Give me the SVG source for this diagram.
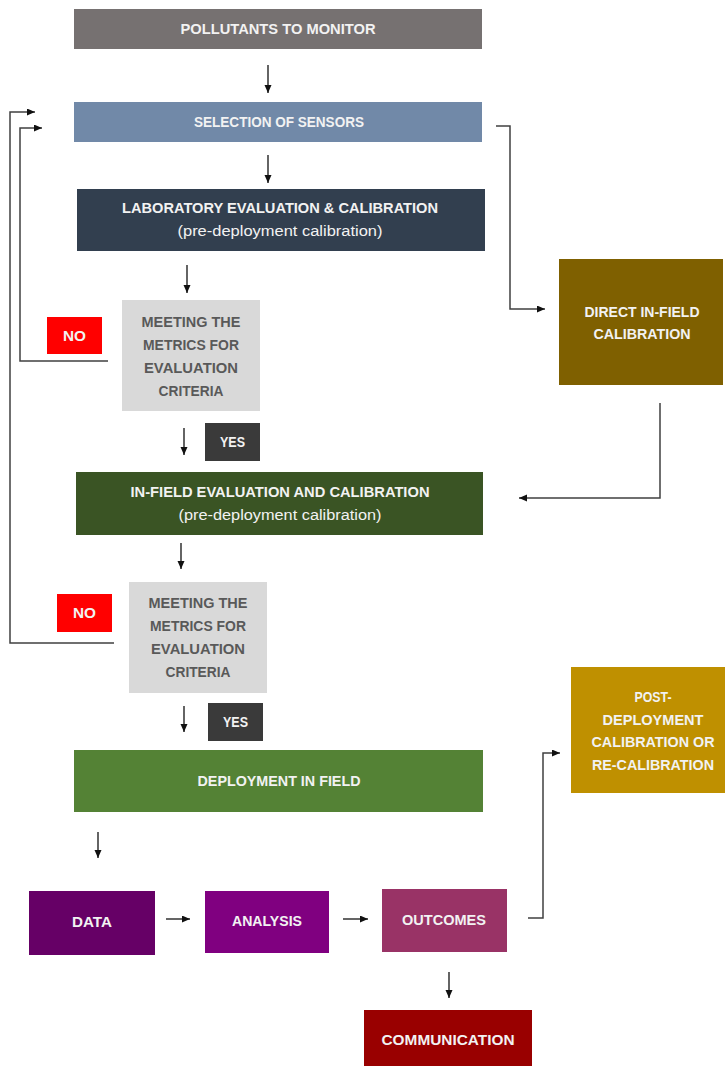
<svg xmlns="http://www.w3.org/2000/svg" width="725" height="1066" viewBox="0 0 725 1066">
<style>
.t{font-family:"Liberation Sans Narrow","Liberation Sans","DejaVu Sans Condensed",sans-serif;font-weight:bold;font-size:14px;fill:#F2F2F2;text-anchor:middle;dominant-baseline:central}
.s{font-family:"Liberation Sans Narrow","Liberation Sans",sans-serif;font-weight:normal;font-size:14px;fill:#F2F2F2;text-anchor:middle;dominant-baseline:central}
.g{fill:#595959}
.c{fill:none;stroke:#404040;stroke-width:1.5}
.a{fill:none;stroke:#111;stroke-width:1.3}
</style>
<defs>
<marker id="ah" markerUnits="userSpaceOnUse" markerWidth="9" markerHeight="8" refX="8" refY="3.5" orient="auto">
<path d="M0,0 L8,3.5 L0,7 z" fill="#111"/>
</marker>
</defs>
<g id="pollutants"><rect x="74" y="9" width="408" height="40" fill="#767171"/><text class="t" x="278" y="29" textLength="195" lengthAdjust="spacingAndGlyphs">POLLUTANTS TO MONITOR</text></g>
<g id="selection"><rect x="74" y="102" width="408" height="40" fill="#7189A8"/><text class="t" x="279" y="122" textLength="170" lengthAdjust="spacingAndGlyphs">SELECTION OF SENSORS</text></g>
<g id="lab"><rect x="77" y="189" width="408" height="62" fill="#323F4F"/><text class="t" x="280" y="208" textLength="316" lengthAdjust="spacingAndGlyphs">LABORATORY EVALUATION &amp; CALIBRATION</text><text class="s" x="280" y="231" textLength="205" lengthAdjust="spacingAndGlyphs">(pre-deployment calibration)</text></g>
<g id="meeting1"><rect x="122" y="300" width="138" height="111" fill="#D9D9D9"/>
<text class="t g" x="191" y="322" textLength="99" lengthAdjust="spacingAndGlyphs">MEETING THE</text>
<text class="t g" x="191" y="345" textLength="96" lengthAdjust="spacingAndGlyphs">METRICS FOR</text>
<text class="t g" x="191" y="368" textLength="94" lengthAdjust="spacingAndGlyphs">EVALUATION</text>
<text class="t g" x="191" y="391" textLength="65" lengthAdjust="spacingAndGlyphs">CRITERIA</text></g>
<g id="no1"><rect x="47" y="317" width="55" height="37" fill="#FF0000"/><text class="t" x="74.5" y="336" textLength="23" lengthAdjust="spacingAndGlyphs">NO</text></g>
<g id="yes1"><rect x="205" y="423" width="55" height="38" fill="#3A3A3A"/><text class="t" x="232.5" y="442" textLength="25" lengthAdjust="spacingAndGlyphs">YES</text></g>
<g id="infield"><rect x="76" y="472" width="407" height="63" fill="#3A5424"/><text class="t" x="280" y="492" textLength="299" lengthAdjust="spacingAndGlyphs">IN-FIELD EVALUATION AND CALIBRATION</text><text class="s" x="280" y="515" textLength="203" lengthAdjust="spacingAndGlyphs">(pre-deployment calibration)</text></g>
<g id="direct"><rect x="559" y="259" width="164" height="126" fill="#7F6000"/><text class="t" x="642" y="312" textLength="115" lengthAdjust="spacingAndGlyphs">DIRECT IN-FIELD</text><text class="t" x="642" y="334" textLength="97" lengthAdjust="spacingAndGlyphs">CALIBRATION</text></g>
<g id="meeting2"><rect x="129" y="582" width="138" height="111" fill="#D9D9D9"/>
<text class="t g" x="198" y="603" textLength="99" lengthAdjust="spacingAndGlyphs">MEETING THE</text>
<text class="t g" x="198" y="626" textLength="96" lengthAdjust="spacingAndGlyphs">METRICS FOR</text>
<text class="t g" x="198" y="649" textLength="94" lengthAdjust="spacingAndGlyphs">EVALUATION</text>
<text class="t g" x="198" y="672" textLength="65" lengthAdjust="spacingAndGlyphs">CRITERIA</text></g>
<g id="no2"><rect x="57" y="594" width="55" height="38" fill="#FF0000"/><text class="t" x="84.5" y="613" textLength="23" lengthAdjust="spacingAndGlyphs">NO</text></g>
<g id="yes2"><rect x="208" y="703" width="55" height="38" fill="#3A3A3A"/><text class="t" x="235.5" y="722" textLength="25" lengthAdjust="spacingAndGlyphs">YES</text></g>
<g id="deployment"><rect x="74" y="750" width="409" height="62" fill="#548235"/><text class="t" x="279" y="781" textLength="163" lengthAdjust="spacingAndGlyphs">DEPLOYMENT IN FIELD</text></g>
<g id="post"><rect x="571" y="667" width="154" height="126" fill="#BF9000"/>
<text class="t" x="653" y="697" textLength="37" lengthAdjust="spacingAndGlyphs">POST-</text>
<text class="t" x="653" y="720" textLength="101" lengthAdjust="spacingAndGlyphs">DEPLOYMENT</text>
<text class="t" x="653" y="742" textLength="123" lengthAdjust="spacingAndGlyphs">CALIBRATION OR</text>
<text class="t" x="653" y="765" textLength="122" lengthAdjust="spacingAndGlyphs">RE-CALIBRATION</text></g>
<g id="data"><rect x="29" y="891" width="126" height="64" fill="#660066"/><text class="t" x="92" y="922" textLength="40" lengthAdjust="spacingAndGlyphs">DATA</text></g>
<g id="analysis"><rect x="205" y="891" width="124" height="62" fill="#800080"/><text class="t" x="267" y="921" textLength="70" lengthAdjust="spacingAndGlyphs">ANALYSIS</text></g>
<g id="outcomes"><rect x="382" y="889" width="125" height="63" fill="#993366"/><text class="t" x="444" y="920" textLength="84" lengthAdjust="spacingAndGlyphs">OUTCOMES</text></g>
<g id="communication"><rect x="364" y="1010" width="168" height="60" fill="#990000"/><text class="t" x="448" y="1040" textLength="133" lengthAdjust="spacingAndGlyphs">COMMUNICATION</text></g>
<g id="connectors">
<path class="a" d="M268,65 V93" marker-end="url(#ah)"/>
<path class="a" d="M268,155 V183" marker-end="url(#ah)"/>
<path class="a" d="M187,265 V293" marker-end="url(#ah)"/>
<path class="a" d="M184,428 V455" marker-end="url(#ah)"/>
<path class="a" d="M181,543 V569" marker-end="url(#ah)"/>
<path class="a" d="M184,706 V732" marker-end="url(#ah)"/>
<path class="a" d="M98,832 V858" marker-end="url(#ah)"/>
<path class="a" d="M166,919 H190" marker-end="url(#ah)"/>
<path class="a" d="M343,919 H368" marker-end="url(#ah)"/>
<path class="a" d="M449,972 V998" marker-end="url(#ah)"/>
<path class="c" d="M108,361 H20 V128 H42" marker-end="url(#ah)"/>
<path class="c" d="M114,643 H10 V112 H35" marker-end="url(#ah)"/>
<path class="c" d="M496,126 H510 V309 H545" marker-end="url(#ah)"/>
<path class="c" d="M660,403 V498 H519" marker-end="url(#ah)"/>
<path class="c" d="M528,918 H543 V753 H560" marker-end="url(#ah)"/>
</g>
</svg>
